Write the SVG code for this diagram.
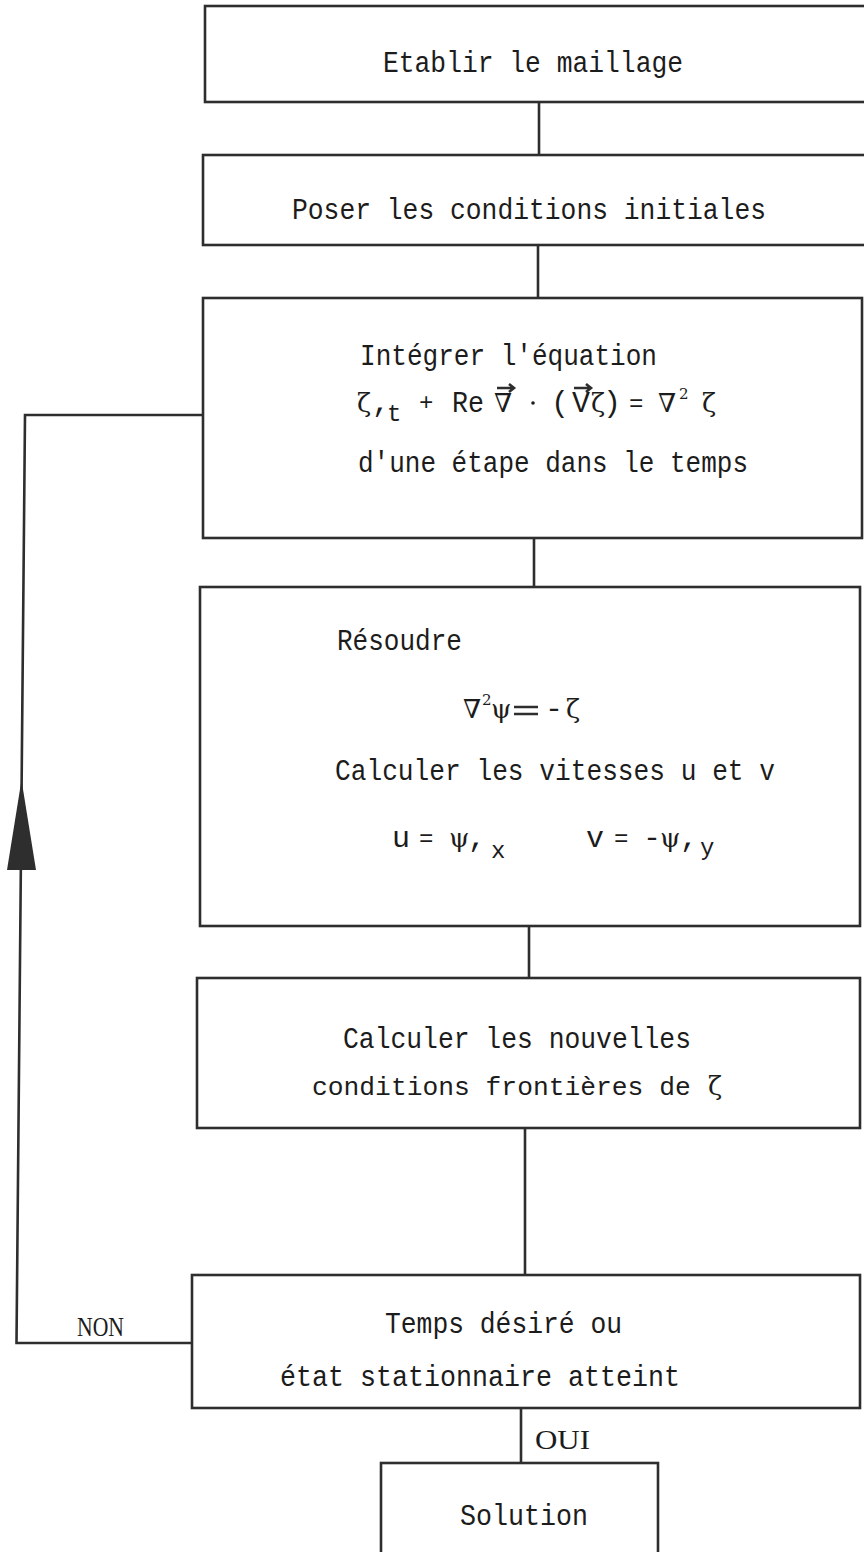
<svg xmlns="http://www.w3.org/2000/svg" width="864" height="1552" viewBox="0 0 864 1552">
<style>
.box{fill:none;stroke:#2e2e2e;stroke-width:2.6;stroke-linejoin:miter}
.ln{fill:none;stroke:#2e2e2e;stroke-width:2.6}
.t{font-family:"Liberation Mono","DejaVu Sans Mono",monospace;font-size:30px;fill:#1c1c1c}
.g{font-family:"DejaVu Serif","Liberation Serif",serif;font-size:26px;fill:#1c1c1c}
.sup{font-family:"DejaVu Serif","Liberation Serif",serif;font-size:15px;fill:#1c1c1c}
.s{font-family:"Liberation Mono","DejaVu Sans Mono",monospace;font-size:24px;fill:#1c1c1c}
.r{font-family:"Liberation Serif","DejaVu Serif",serif;font-size:28px;fill:#1c1c1c}
</style>
<rect width="864" height="1552" fill="#ffffff"/>
<g id="connectors">
<path class="ln" d="M539,102 V155"/>
<path class="ln" d="M538,245 V298"/>
<path class="ln" d="M534,538 V587"/>
<path class="ln" d="M529,926 V978"/>
<path class="ln" d="M525,1128 V1275"/>
<path class="ln" d="M521,1408 V1463"/>
<path class="ln" d="M192,1343 H16.5 L25,415 H203"/>
<polygon points="21.5,780 36,870 7,870" fill="#2e2e2e"/>
<text class="r" x="77" y="1336" textLength="47" lengthAdjust="spacingAndGlyphs">NON</text>
<text class="r" x="535" y="1449" textLength="55" lengthAdjust="spacingAndGlyphs">OUI</text>
</g>
<g id="n1">
<rect class="box" x="205" y="6" width="680" height="96"/>
<text class="t" x="383" y="72" textLength="300" lengthAdjust="spacingAndGlyphs">Etablir le maillage</text>
</g>
<g id="n2">
<rect class="box" x="203" y="155" width="680" height="90"/>
<text class="t" x="292" y="219" textLength="474" lengthAdjust="spacingAndGlyphs">Poser les conditions initiales</text>
</g>
<g id="n3">
<rect class="box" x="203" y="298" width="659" height="240"/>
<text class="t" x="360" y="365" textLength="297" lengthAdjust="spacingAndGlyphs">Intégrer l'équation</text>
<text class="g" x="357" y="412">ζ</text>
<text class="t" x="372" y="412">,</text>
<text class="s" x="387" y="421">t</text>
<text class="s" x="419" y="410">+</text>
<text class="t" x="452" y="412" textLength="32" lengthAdjust="spacingAndGlyphs">Re</text>
<text class="g" x="494" y="412">∇</text>
<path class="ln" stroke-width="1.6" d="M497,388 H514 M509,384 L514,388 L509,392"/>
<circle cx="533" cy="403" r="1.8" fill="#1c1c1c"/>
<text class="t" x="551" y="412">(</text>
<text class="t" x="572" y="412">V</text>
<path class="ln" stroke-width="1.6" d="M574,388 H591 M586,384 L591,388 L586,392"/>
<text class="g" x="591" y="412">ζ</text>
<text class="t" x="603" y="412">)</text>
<text class="s" x="629" y="411">=</text>
<text class="g" x="658" y="412">∇</text>
<text class="sup" x="679" y="399">2</text>
<text class="g" x="702" y="412">ζ</text>
<text class="t" x="358" y="472" textLength="390" lengthAdjust="spacingAndGlyphs">d'une étape dans le temps</text>
</g>
<g id="n4">
<rect class="box" x="200" y="587" width="660" height="339"/>
<text class="t" x="337" y="650" textLength="125" lengthAdjust="spacingAndGlyphs">Résoudre</text>
<text class="g" x="463" y="718">∇</text>
<text class="sup" x="482" y="705">2</text>
<text class="g" x="491" y="718">ψ</text>
<path class="ln" stroke-width="2.2" d="M514,707 H538 M514,714 H538"/>
<text class="t" x="545" y="718">-</text>
<text class="g" x="566" y="718">ζ</text>
<text class="t" x="335" y="780" textLength="440" lengthAdjust="spacingAndGlyphs">Calculer les vitesses u et v</text>
<text class="t" x="392" y="847">u</text>
<text class="s" x="419" y="846">=</text>
<text class="g" x="449" y="847">ψ</text>
<text class="t" x="468" y="847">,</text>
<text class="s" x="491" y="858">x</text>
<text class="t" x="586" y="847">v</text>
<text class="s" x="614" y="846">=</text>
<text class="t" x="643" y="847">-</text>
<text class="g" x="660" y="847">ψ</text>
<text class="t" x="680" y="847">,</text>
<text class="s" x="700" y="855">y</text>
</g>
<g id="n5">
<rect class="box" x="197" y="978" width="663" height="150"/>
<text class="t" x="343" y="1048" textLength="348" lengthAdjust="spacingAndGlyphs">Calculer les nouvelles</text>
<text class="t" x="312" y="1095" style="font-size:26.3px">conditions frontières de</text>
<text class="g" x="708" y="1095">ζ</text>
</g>
<g id="n6">
<rect class="box" x="192" y="1275" width="668" height="133"/>
<text class="t" x="385" y="1333" textLength="237" lengthAdjust="spacingAndGlyphs">Temps désiré ou</text>
<text class="t" x="280" y="1386" textLength="400" lengthAdjust="spacingAndGlyphs">état stationnaire atteint</text>
</g>
<g id="n7">
<rect class="box" x="381" y="1463" width="277" height="120"/>
<text class="t" x="460" y="1525" textLength="128" lengthAdjust="spacingAndGlyphs">Solution</text>
</g>
</svg>
